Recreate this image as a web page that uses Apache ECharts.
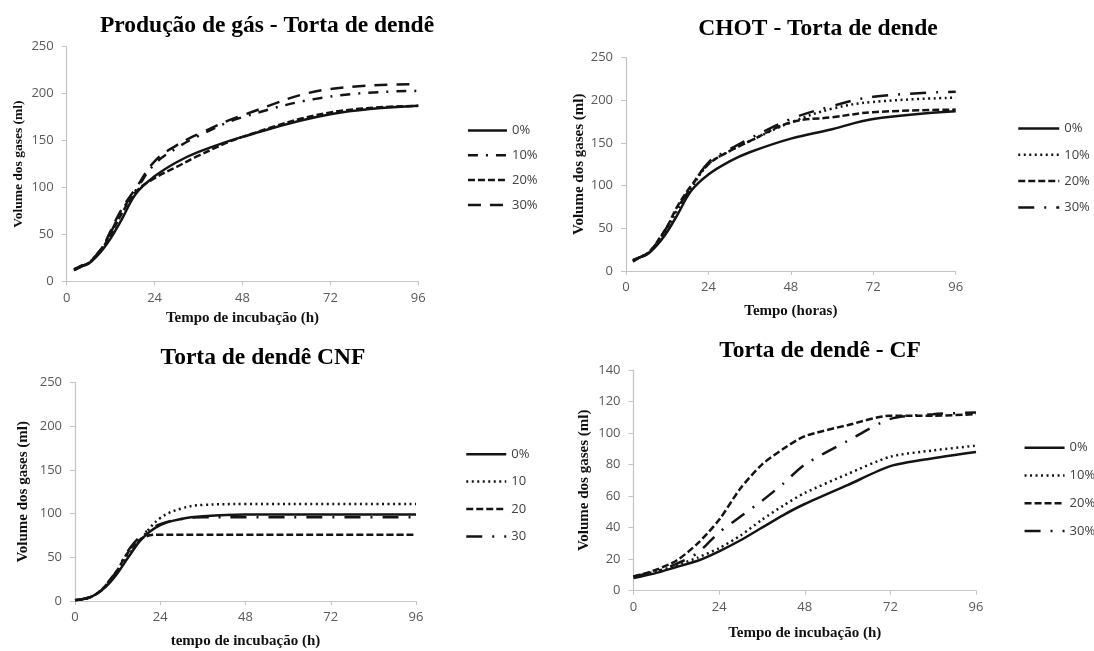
<!DOCTYPE html>
<html>
<head>
<meta charset="utf-8">
<title>Produção de gás - Torta de dendê</title>
<script src="https://cdn.jsdelivr.net/npm/echarts@6/dist/echarts.min.js"></script>
<style>
  html, body { margin: 0; padding: 0; background: #fff; }
  #chart { width: 1094px; height: 651px; }
</style>
</head>
<body>
<div id="chart"></div>
<script>
// ---- data (ml of gas over incubation hours) ----
var legendNames = ['0%', '10%', '20%', '30%'];
var xTicks = [0, 24, 48, 72, 96];

// panel 1 - Produção de gás
var hoursGas = [2, 4, 6, 8, 10, 12, 15, 19, 24, 30, 36, 48, 72, 96];
var gas0  = [13, 16, 19, 26, 35, 46, 66, 94, 112, 127, 138, 154, 178, 187];
var gas10 = [13, 17, 20, 28, 38, 52, 75, 98, 125, 142, 155, 175, 197, 203];
var gas20 = [12, 16, 20, 27, 37, 50, 72, 96, 110, 122, 134, 154, 180, 187];
var gas30 = [12, 16, 20, 28, 38, 54, 77, 100, 128, 145, 157, 177, 205, 210];

// panel 2 - CHOT
var hoursChot = [2, 4, 6, 8, 10, 12, 15, 19, 24, 30, 36, 48, 60, 72, 96];
var chot0  = [13, 16, 19, 26, 35, 46, 66, 94, 113, 128, 139, 155, 166, 178, 187];
var chot10 = [12, 16, 20, 28, 38, 50, 72, 97, 125, 140, 152, 174, 190, 198, 203];
var chot20 = [11, 16, 20, 28, 40, 52, 76, 100, 125, 140, 152, 174, 180, 186, 189];
var chot30 = [12, 16, 20, 28, 39, 52, 74, 98, 127, 142, 155, 178, 193, 204, 210];

// panel 3 - CNF
var hoursCnf = [0, 2, 4, 6, 8, 10, 12, 15, 19, 24, 30, 36, 48, 72, 96];
var cnf0  = [1, 2, 4, 8, 14, 22, 32, 50, 72, 87, 94, 97, 99, 99, 99];
var cnf10 = [1, 2, 4, 8, 14, 23, 33, 52, 73, 95, 106, 110, 111, 111, 111];
var cnf20 = [1, 2, 4, 8, 15, 25, 36, 56, 72, 76, 76, 76, 76, 76, 76];
var cnf30 = [1, 2, 4, 8, 15, 25, 36, 58, 76, 88, 94, 96, 96, 96, 96];

// panel 4 - CF
var hoursCf = [0, 6, 12, 18, 24, 30, 36, 42, 48, 60, 72, 84, 96];
var cf0  = [8, 11, 15, 19, 25, 32, 40, 48, 55, 67, 79, 84, 88];
var cf10 = [9, 12, 16, 21, 27, 35, 45, 54, 62, 74, 85, 89, 92];
var cf20 = [9, 13, 19, 30, 45, 65, 80, 90, 98, 105, 111, 111, 112];
var cf30 = [9, 12, 17, 24, 37, 47, 57, 68, 80, 95, 109, 112, 113];

// ---- styles ----
var ink = '#141414';
var dashA = [[0], [10, 8, 2, 8], [7, 3], [13, 9]];           // panel 1
var dashB = [[0], [2, 3.5], [7, 3], [16, 10, 2, 10]];         // panels 2-4
var serif = "'Liberation Serif', 'Times New Roman', serif";
var sans = "'Open Sans', 'Liberation Sans', sans-serif";

var panels = [
  { title: 'Produção de gás - Torta de dendê', tx: 267, ty: 14,
    grid: { left: 66.7, top: 46.7, width: 351.6, height: 234.8 },
    yMax: 250, yStep: 50, xName: 'Tempo de incubação (h)', xGap: 29, yGap: 41, yNameSize: 13.5,
    legend: { left: 466.7, top: 124, itemWidth: 39, itemGap: 11.8 },
    hours: hoursGas, values: [gas0, gas10, gas20, gas30], dash: dashA, smooth: 0.4 },
  { title: 'CHOT - Torta de dende', tx: 818, ty: 17,
    grid: { left: 626, top: 57.5, width: 329.7, height: 213.5 },
    yMax: 250, yStep: 50, xName: 'Tempo (horas)', xGap: 33, yGap: 38, yNameSize: 15,
    legend: { left: 1017, top: 122, itemWidth: 41, itemGap: 13.3 },
    hours: hoursChot, values: [chot0, chot10, chot20, chot30], dash: dashB, smooth: 0.4 },
  { title: 'Torta de dendê CNF', tx: 263, ty: 346,
    grid: { left: 75, top: 382.7, width: 341, height: 218.3 },
    yMax: 250, yStep: 50, xName: 'tempo de incubação (h)', xGap: 33, yGap: 44, yNameSize: 15,
    legend: { left: 465, top: 447.7, itemWidth: 40, itemGap: 14.4, clip: 21 },
    hours: hoursCnf, values: [cnf0, cnf10, cnf20, cnf30], dash: dashB, smooth: 0.4 },
  { title: 'Torta de dendê - CF', tx: 820, ty: 339,
    grid: { left: 633.5, top: 370, width: 342.5, height: 220.7 },
    yMax: 140, yStep: 20, xName: 'Tempo de incubação (h)', xGap: 35, yGap: 42, yNameSize: 15,
    legend: { left: 1023.3, top: 441.2, itemWidth: 40, itemGap: 14.8 },
    hours: hoursCf, values: [cf0, cf10, cf20, cf30], dash: dashB, smooth: 0.25 }
];

var option = {
  animation: false,
  backgroundColor: '#fff',
  title: [], grid: [], xAxis: [], yAxis: [], legend: [], series: []
};

panels.forEach(function (p, i) {
  option.title.push({
    text: p.title, left: p.tx, top: p.ty, textAlign: 'center', padding: 0,
    textStyle: { fontFamily: serif, fontWeight: 'bold', fontSize: 23.5, color: '#000' }
  });
  option.grid.push(p.grid);
  option.xAxis.push({
    type: 'value', gridIndex: i, min: xTicks[0], max: xTicks[xTicks.length - 1], interval: 24,
    name: p.xName, nameLocation: 'middle', nameGap: p.xGap,
    nameTextStyle: { fontFamily: serif, fontWeight: 'bold', fontSize: 15, color: '#111' },
    axisLine: { lineStyle: { color: '#c4c4c4', width: 1.2 } },
    axisTick: { show: true, length: 4, lineStyle: { color: '#c4c4c4' } },
    axisLabel: { margin: 10, fontFamily: sans, fontSize: 13, color: '#595959' },
    splitLine: { show: false }
  });
  option.yAxis.push({
    type: 'value', gridIndex: i, min: 0, max: p.yMax, interval: p.yStep,
    name: 'Volume dos gases (ml)', nameLocation: 'middle', nameGap: p.yGap,
    nameTextStyle: { fontFamily: serif, fontWeight: 'bold', fontSize: p.yNameSize, color: '#111' },
    axisLine: { show: true, lineStyle: { color: '#c4c4c4', width: 1.2 } },
    axisTick: { show: true, length: 5, lineStyle: { color: '#c4c4c4' } },
    axisLabel: { margin: 13, fontFamily: sans, fontSize: 13, color: '#595959' },
    splitLine: { show: false }
  });
  var lg = {
    orient: 'vertical', left: p.legend.left, top: p.legend.top, padding: 0,
    itemWidth: p.legend.itemWidth, itemHeight: 14, itemGap: p.legend.itemGap,
    selectedMode: false, data: [],
    lineStyle: { width: 2.5 },
    itemStyle: { opacity: 0 },   // line only, no marker in the key
    textStyle: { fontFamily: sans, fontSize: 13, color: '#404040' }
  };
  if (p.legend.clip) {
    // the original picture cuts this legend's text at the panel edge
    lg.textStyle.width = p.legend.clip;
    lg.textStyle.overflow = 'truncate';
    lg.textStyle.ellipsis = '';
  }
  option.legend.push(lg);

  legendNames.forEach(function (name, k) {
    var sid = 'p' + i + '_' + k;
    lg.data.push({ name: sid });
    var pts = p.hours.map(function (h, j) { return [h, p.values[k][j]]; });
    option.series.push({
      id: sid, name: sid, type: 'line', xAxisIndex: i, yAxisIndex: i,
      data: pts, smooth: p.smooth,
      symbol: 'none', showSymbol: false,
      lineStyle: { color: ink, width: 2.5, type: k === 0 ? 'solid' : p.dash[k] },
      itemStyle: { color: ink },
      z: 10 - k
    });
  });
  lg.formatter = function (sid) { return legendNames[+sid.split('_')[1]]; };
});

var chart = echarts.init(document.getElementById('chart'));
chart.setOption(option);
</script>
</body>
</html>
